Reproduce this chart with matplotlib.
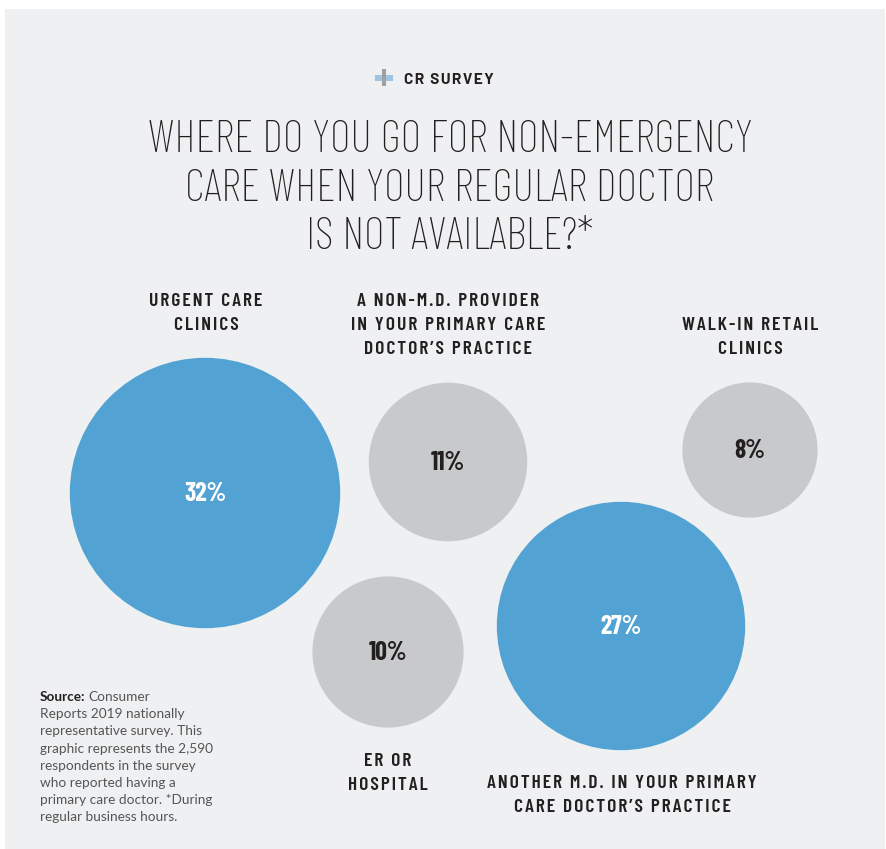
import matplotlib.pyplot as plt
from matplotlib.patches import Circle, Rectangle
import numpy as np

# data
categories = [
    "URGENT CARE\nCLINICS",
    "A NON-M.D. PROVIDER\nIN YOUR PRIMARY CARE\nDOCTOR\u2019S PRACTICE",
    "WALK-IN RETAIL\nCLINICS",
    "ER OR\nHOSPITAL",
    "ANOTHER M.D. IN YOUR PRIMARY\nCARE DOCTOR\u2019S PRACTICE",
]
shares = [32, 11, 8, 10, 27]
highlight = [True, False, False, False, True]

title_lines = ["WHERE DO YOU GO FOR NON-EMERGENCY",
               "CARE WHEN YOUR REGULAR DOCTOR",
               "IS NOT AVAILABLE?*"]
source_lines = ["Consumer", "Reports 2019 nationally",
                "representative survey. This",
                "graphic represents the 2,590",
                "respondents in the survey",
                "who reported having a",
                "primary care doctor. *During",
                "regular business hours."]

# layout (pixel coordinates on an 886x849 canvas)
centers = [(205, 493), (448, 462), (750, 450), (388, 652), (621, 626)]
label_x = [206, 448, 750, 388, 622]
label_base = [306, 306, 330, 766, 788]
scale = 23.9  # px per sqrt(percent)

BLUE = "#52a3d3"
GRAY = "#c8c9cb"
BG = "#eff0f2"
DARK = "#231f20"

TITLE_FONT = ["Barlow Condensed", "Roboto Condensed", "DejaVu Sans"]
LABEL_FONT = ["Barlow Condensed", "Roboto Condensed", "DejaVu Sans"]
HEAD_FONT = ["Barlow", "Barlow Semi Condensed", "DejaVu Sans"]
BODY_FONT = ["Lato", "DejaVu Sans"]


def spaced(s, sep="\u200a"):
    return sep.join(s)


fig = plt.figure(figsize=(8.86, 8.49), dpi=100)
ax = fig.add_axes([0, 0, 1, 1])
ax.set_xlim(0, 886)
ax.set_ylim(849, 0)
ax.axis("off")
fig.patch.set_facecolor("white")

ax.add_patch(Rectangle((5, 9), 880, 845, facecolor=BG, edgecolor="none"))

# header
ax.add_patch(Rectangle((375, 74.5), 18, 6, facecolor="#9cc4e4", edgecolor="none"))
ax.add_patch(Rectangle((382, 69), 4, 17, facecolor="#a0a0a0", edgecolor="none"))
ax.text(404, 84, spaced("CR SURVEY"), fontsize=11, fontweight=700,
        family=HEAD_FONT, color=DARK, ha="left", va="baseline")

for i, line in enumerate(title_lines):
    ax.text(450, 152 + i * 48.5, line, fontsize=32.5, family=TITLE_FONT,
            color=DARK, ha="center", va="baseline", fontweight=250)

# bubbles
for (cx, cy), v, hl, lab, lx, lb in zip(centers, shares, highlight,
                                         categories, label_x, label_base):
    r = scale * np.sqrt(v)
    ax.add_patch(Circle((cx, cy), r, facecolor=BLUE if hl else GRAY,
                        edgecolor="none"))
    ax.text(cx, cy + 8, f"{v}%", fontsize=18.5, fontweight=700,
            family=LABEL_FONT, color="white" if hl else DARK,
            ha="center", va="baseline")
    for j, line in enumerate(lab.split("\n")):
        ax.text(lx, lb + j * 24, spaced(line), fontsize=14,
                fontweight=600, family=LABEL_FONT, color=DARK,
                ha="center", va="baseline")

# source note
fig.canvas.draw()
src = ax.text(40, 701, "Source:", fontsize=9.8, fontweight="bold",
              family=BODY_FONT, color=DARK, ha="left", va="baseline")
bb = src.get_window_extent(fig.canvas.get_renderer())
x_after = 40 + bb.width + 3
for j, line in enumerate(source_lines):
    ax.text(x_after if j == 0 else 40, 701 + j * 17.2, line, fontsize=9.8,
            family=BODY_FONT, color="#555555", ha="left", va="baseline")

fig.savefig("out.png", dpi=100, facecolor="white")
